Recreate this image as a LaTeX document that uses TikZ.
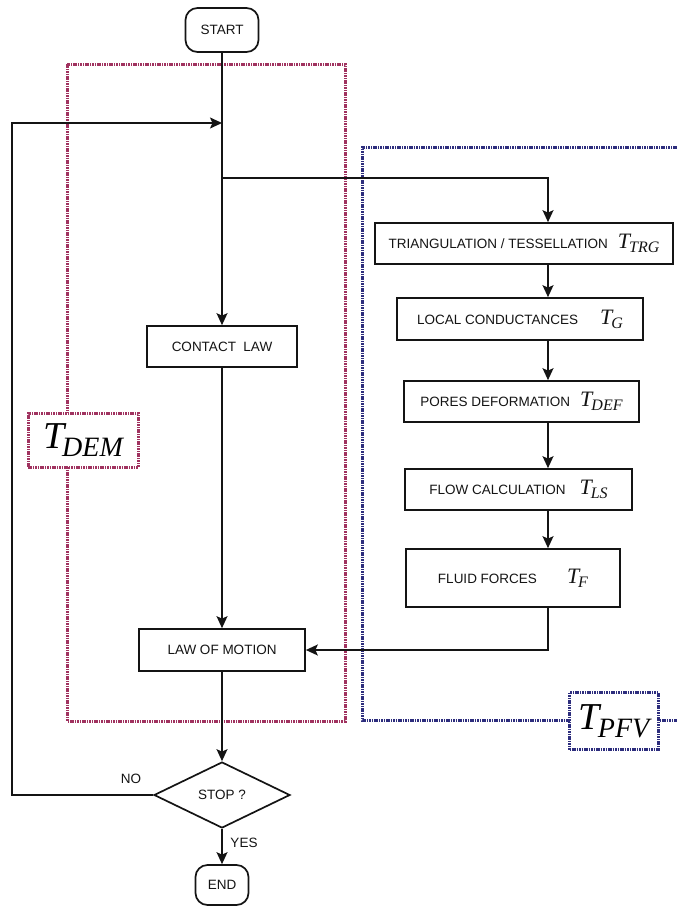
\documentclass[tikz,border=0pt]{standalone}
\usepackage{fontspec}
\setmainfont{Liberation Sans}
\newfontfamily\termsfont{Liberation Serif}
\definecolor{demRose}{RGB}{160, 50, 95}
\definecolor{pfvNavy}{RGB}{ 45, 45, 125}
\definecolor{flowInk}{RGB}{ 20, 20, 20}
\usetikzlibrary{
  arrows.meta,
  positioning,
  shapes.geometric,
}
\newcommand\cost[1]{{\termsfont\itshape\fontsize{22}{22}\selectfont
  T\kern-1pt\raisebox{-4pt}{\fontsize{16}{16}\selectfont #1}}}
\newcommand\zonecost[1]{{\termsfont\itshape\fontsize{38}{38}\selectfont
  T\kern-2pt\raisebox{-8pt}{\fontsize{28}{28}\selectfont #1}}}

\begin{document}
\begin{tikzpicture}[
  x=1pt, y=-1pt,
  >={Stealth[length=12pt, width=11pt, inset=2.5pt]},
  proc/.style={draw=flowInk, line width=1.7pt, fill=white,
               inner sep=0pt, align=center,
               font=\fontsize{13.5}{15}\selectfont, text=flowInk},
  term/.style={proc, rounded corners=12pt},
  decide/.style={proc, diamond, aspect=2,
                 minimum width=136pt, minimum height=66pt},
  flow/.style={->, line width=1.7pt, color=flowInk},
  demzone/.style={draw=demRose, line width=3pt,
                  dash pattern=on 1.6pt off 0.8pt},
  pfvzone/.style={draw=pfvNavy, line width=3pt,
                  dash pattern=on 1.6pt off 0.8pt},
  tag/.style={fill=white, inner sep=0pt, text=black},
  note/.style={font=\fontsize{13.5}{15}\selectfont, text=flowInk},
]
  \useasboundingbox (0,0) rectangle (677,910);

  % dotted zones: DEM on the left, PFV running off the right edge
  \draw[demzone] (67,64) rectangle (345,721);
  \draw[pfvzone] (677,147) -- (362,147) -- (362,720) -- (677,720);
  \node[tag, demzone, minimum width=110pt, minimum height=54pt] (tdem) at (83,440)  {\zonecost{DEM}};
  \node[tag, pfvzone, minimum width=89pt, minimum height=57pt]  (tpfv) at (614,721) {\zonecost{PFV}};

  % main DEM column
  \node[term]   (start)   at (222, 30)  [minimum width=73pt, minimum height=44pt] {START};
  \node[proc]   (contact) at (222,346.5)[minimum width=150pt, minimum height=41pt] {CONTACT\ \ LAW};
  \node[proc]   (motion)  at (222,650)  [minimum width=166pt, minimum height=42pt] {LAW OF MOTION};
  \node[decide] (stop)    at (222,795)  {STOP ?};
  \node[term]   (end)     at (222,885)  [minimum width=53pt, minimum height=40pt] {END};

  % PFV column
  \node[proc] (trg) at (524,243.5) [minimum width=298pt, minimum height=41pt]
       {TRIANGULATION / TESSELLATION\hspace{10pt}\cost{TRG}};
  \node[proc] (cond) at (520,319)  [minimum width=246pt, minimum height=42pt]
       {LOCAL CONDUCTANCES\hspace{22pt}\cost{G}};
  \node[proc] (pore) at (521.5,401.5) [minimum width=235pt, minimum height=41pt]
       {PORES DEFORMATION\hspace{10pt}\cost{DEF}};
  \node[proc] (ls)   at (518.5,489.5) [minimum width=227pt, minimum height=41pt]
       {FLOW CALCULATION\hspace{14pt}\cost{LS}};
  \node[proc] (fluid) at (513,578) [minimum width=214pt, minimum height=58pt]
       {FLUID FORCES\hspace{30pt}\cost{F}};

  \node[note] (no)  at (131,779) {NO};
  \node[note] (yes) at (244,843) {YES};

  \coordinate (merge) at (222,123);
  \coordinate (fork)  at (222,178);
  \coordinate (spine) at (548,0);
  \coordinate (loopx) at (12,0);

  % connectors
  \draw[flow] (start.south) -- (contact.north);
  \draw[flow] (fork) -| (trg.north -| spine);
  \draw[flow] (trg.south -| spine)  -- (cond.north -| spine);
  \draw[flow] (cond.south -| spine) -- (pore.north -| spine);
  \draw[flow] (pore.south -| spine) -- (ls.north -| spine);
  \draw[flow] (ls.south -| spine)   -- (fluid.north -| spine);
  \draw[flow] (fluid.south -| spine) |- (motion.east);
  \draw[flow] (contact.south) -- (motion.north);
  \draw[flow] (motion.south) -- (stop.north);
  \draw[flow] (stop.south) -- (end.north);
  \draw[flow] (stop.west) -- (stop.west -| loopx) |- (merge);
\end{tikzpicture}
\end{document}
